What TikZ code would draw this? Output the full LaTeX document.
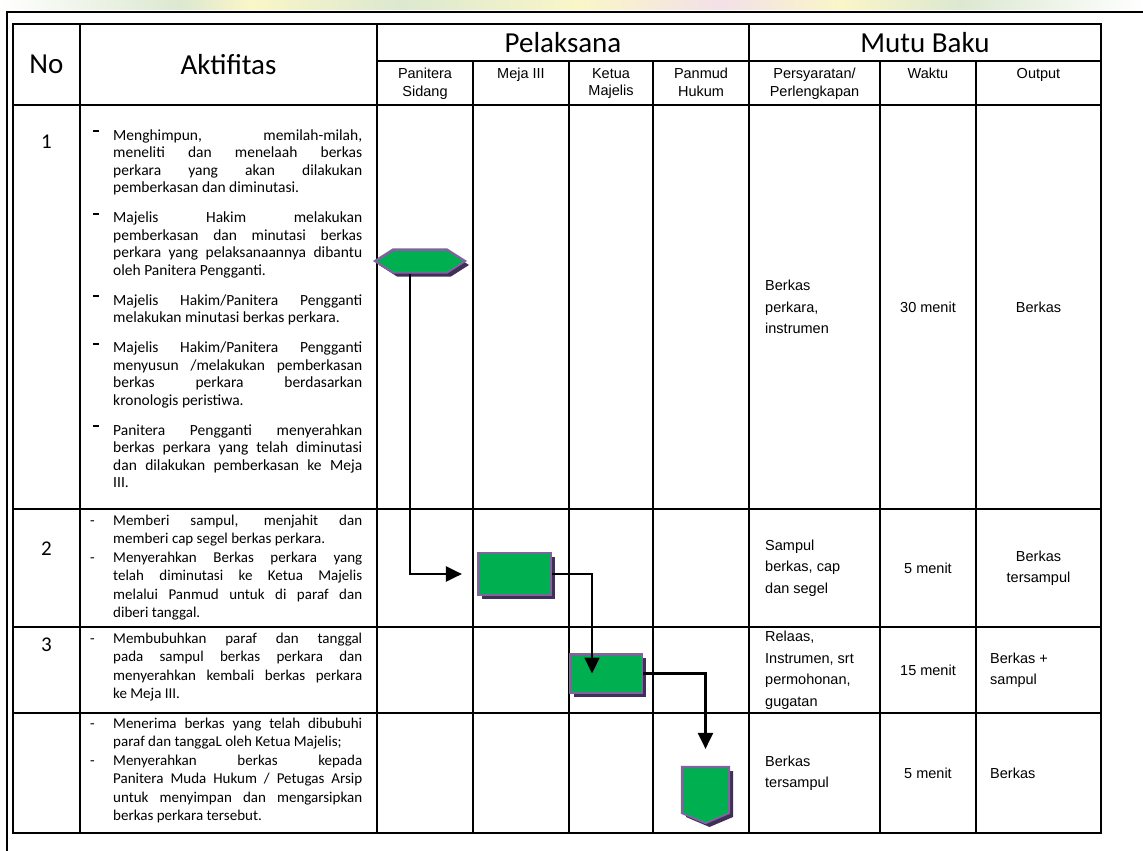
\documentclass[tikz,border=0pt]{standalone}
\usepackage{fontspec}
\setmainfont{Carlito}
\newfontfamily\arialfont{Liberation Sans}
\usetikzlibrary{arrows.meta,shapes.symbols,shadows}
\definecolor{boxgreen}{RGB}{0,176,80}
\definecolor{boxpurple}{RGB}{128,100,162}
\definecolor{boxshadow}{RGB}{63,49,81}
\definecolor{bandgreen}{RGB}{220,232,208}
\definecolor{bandyellow}{RGB}{250,246,200}
\definecolor{bandpink}{RGB}{243,224,232}

% bullets of the activity column
\newcommand{\bulA}{\noindent\hangindent=20pt\hangafter=1\makebox[20pt][l]{\rule[8pt]{6pt}{2pt}}}
\newcommand{\bulB}{\noindent\hangindent=23pt\hangafter=1\makebox[23pt][l]{-}}
\newcommand{\gapA}{\par\vspace{12.5pt}}

\begin{document}
\begin{tikzpicture}[x=1pt,y=-1pt,
  tabline/.style={line width=2.6pt},
  pageline/.style={line width=1.6pt},
  flowline/.style={line width=2.2pt,-{Triangle[length=16pt,width=15pt]}},
  procbox/.style={draw=boxpurple,line width=2.2pt,fill=boxgreen,inner sep=0pt,
    drop shadow={fill=boxshadow,opacity=1,shadow xshift=4pt,shadow yshift=-4pt}},
  hdrtext/.style={font=\fontsize{29}{33}\selectfont,inner sep=0pt},
  subhdr/.style={font=\arialfont\fontsize{14.5}{17.5}\selectfont,align=center,anchor=north,inner sep=0pt},
  akttext/.style={text width=#1,align=justify,anchor=base west,inner sep=0pt},
  mututext/.style={font=\arialfont\fontsize{14.5}{21.5}\selectfont,inner sep=0pt},
  numtext/.style={font=\fontsize{21}{25}\selectfont,anchor=base,inner sep=0pt}]
\useasboundingbox (0,0) rectangle (1143,851);

% faded band at the top
\shade[left color=white,right color=bandgreen] (0,0) rectangle (180,10);
\shade[left color=bandgreen,right color=bandyellow] (180,0) rectangle (250,10);
\shade[left color=bandyellow,right color=bandgreen] (250,0) rectangle (400,10);
\shade[left color=bandgreen,right color=bandyellow] (400,0) rectangle (580,10);
\shade[left color=bandyellow,right color=bandpink] (580,0) rectangle (720,10);
\shade[left color=bandpink,right color=bandyellow] (720,0) rectangle (840,10);
\shade[left color=bandyellow,right color=bandgreen] (840,0) rectangle (960,10);
\shade[left color=bandgreen,right color=white] (960,0) rectangle (1143,10);
\draw[pageline] (7,851) -- (7,12) -- (1143,12);

% table grid
\draw[tabline] (13,24) rectangle (1101,833);
\draw[tabline] (13,105) -- (1101,105) (377,61) -- (1101,61);
\draw[tabline] (13,509) -- (1101,509) (13,627) -- (1101,627) (13,713) -- (1101,713);
\draw[tabline] (80,24) -- (80,833) (377,24) -- (377,833) (749,24) -- (749,833);
\draw[tabline] (473,61) -- (473,833) (569,61) -- (569,833) (653,61) -- (653,833);
\draw[tabline] (880,61) -- (880,833) (976,61) -- (976,833);

% headers
\node[hdrtext] (hno) at (46.5,64.5) {No};
\node[hdrtext] (hakt) at (228.5,64.5) {Aktifitas};
\node[hdrtext] (hpel) at (563,42.5) {Pelaksana};
\node[hdrtext] (hmutu) at (925,42.5) {Mutu Baku};
\node[subhdr] (hps) at (425,68) {Panitera\\Sidang};
\node[subhdr] (hmeja) at (521,68) {Meja III};
\node[subhdr] (hkm) at (611,68) {Ketua\\Majelis};
\node[subhdr] (hph) at (701,68) {Panmud\\Hukum};
\node[subhdr] (hsyarat) at (814.5,68) {Persyaratan/\\Perlengkapan};
\node[subhdr] (hwaktu) at (928,68) {Waktu};
\node[subhdr] (houtput) at (1038.5,68) {Output};

% numbers
\node[numtext] (no1) at (46.5,148) {1};
\node[numtext] (no2) at (46.5,555) {2};
\node[numtext] (no3) at (46.5,651) {3};

% activities
\node[akttext=269pt,font=\fontsize{15.5}{17.5}\selectfont] (akt1) at (93,140) {%
\hyphenpenalty=10000\exhyphenpenalty=10000\tolerance=10000\hbadness=10000
\bulA Menghimpun, memilah-milah,\linebreak meneliti dan menelaah berkas\linebreak perkara yang akan dilakukan\linebreak pemberkasan dan diminutasi.\gapA
\bulA Majelis Hakim melakukan\linebreak pemberkasan dan minutasi berkas\linebreak perkara yang pelaksanaannya dibantu\linebreak oleh Panitera Pengganti.\gapA
\bulA Majelis Hakim/Panitera Pengganti\linebreak melakukan minutasi berkas perkara.\gapA
\bulA Majelis Hakim/Panitera Pengganti\linebreak menyusun /melakukan pemberkasan\linebreak berkas perkara berdasarkan\linebreak kronologis peristiwa.\gapA
\bulA Panitera Pengganti menyerahkan\linebreak berkas perkara yang telah diminutasi\linebreak dan dilakukan pemberkasan ke Meja\linebreak III.\par};
\node[akttext=272pt,font=\fontsize{15}{18.5}\selectfont] (akt2) at (90,525) {%
\hyphenpenalty=10000\exhyphenpenalty=10000\tolerance=10000\hbadness=10000
\bulB Memberi sampul, menjahit dan\linebreak memberi cap segel berkas perkara.\par
\bulB Menyerahkan Berkas perkara yang\linebreak telah diminutasi ke Ketua Majelis\linebreak melalui Panmud untuk di paraf dan\linebreak diberi tanggal.\par};
\node[akttext=272pt,font=\fontsize{15}{18.5}\selectfont] (akt3) at (90,643) {%
\hyphenpenalty=10000\exhyphenpenalty=10000\tolerance=10000\hbadness=10000
\bulB Membubuhkan paraf dan tanggal\linebreak pada sampul berkas perkara dan\linebreak menyerahkan kembali berkas perkara\linebreak ke Meja III.\par};
\node[akttext=272pt,font=\fontsize{15}{18.5}\selectfont] (akt4) at (90,728) {%
\hyphenpenalty=10000\exhyphenpenalty=10000\tolerance=10000\hbadness=10000
\bulB Menerima berkas yang telah dibubuhi\linebreak paraf dan tanggaL oleh Ketua Majelis;\par
\bulB Menyerahkan berkas kepada\linebreak Panitera Muda Hukum / Petugas Arsip\linebreak untuk menyimpan dan mengarsipkan\linebreak berkas perkara tersebut.\par};

% mutu baku
\node[mututext,align=left,anchor=west] (syarat1) at (765,307) {Berkas\\perkara,\\instrumen};
\node[mututext] (waktu1) at (928,307) {30 menit};
\node[mututext] (output1) at (1038.5,307) {Berkas};
\node[mututext,align=left,anchor=west] (syarat2) at (765,568) {Sampul\\berkas, cap\\dan segel};
\node[mututext] (waktu2) at (928,568) {5 menit};
\node[mututext,align=center] (output2) at (1038.5,568) {Berkas\\tersampul};
\node[mututext,align=left,anchor=west] (syarat3) at (765,670) {Relaas,\\Instrumen, srt\\permohonan,\\gugatan};
\node[mututext] (waktu3) at (928,670) {15 menit};
\node[mututext,align=left,anchor=west] (output3) at (990,670) {Berkas +\\sampul};
\node[mututext,align=left,anchor=west] (syarat4) at (765,773) {Berkas\\tersampul};
\node[mututext] (waktu4) at (928,773) {5 menit};
\node[mututext,anchor=west] (output4) at (990,773) {Berkas};

% flow
\node[procbox,shape=signal,signal to=east and west,signal pointer angle=65,
  minimum width=90pt,minimum height=23pt] (mulai) at (420,261) {};
\node[procbox,minimum width=73pt,minimum height=42pt] (meja) at (514.5,574) {};
\node[procbox,minimum width=72pt,minimum height=39pt] (ketua) at (606,673.5) {};
\node[procbox,shape=signal,signal to=south,signal pointer angle=134,
  minimum width=47pt,minimum height=46pt] (arsip) at (705.5,790) {};
\draw[flowline] ([xshift=-10pt]mulai.south) |- ([xshift=-15pt]meja.west);
\draw[flowline] (meja.east) -| ([xshift=-14pt]ketua.center);
\draw[flowline] (ketua.east) -| ([yshift=17pt]arsip.north);
\end{tikzpicture}
\end{document}
